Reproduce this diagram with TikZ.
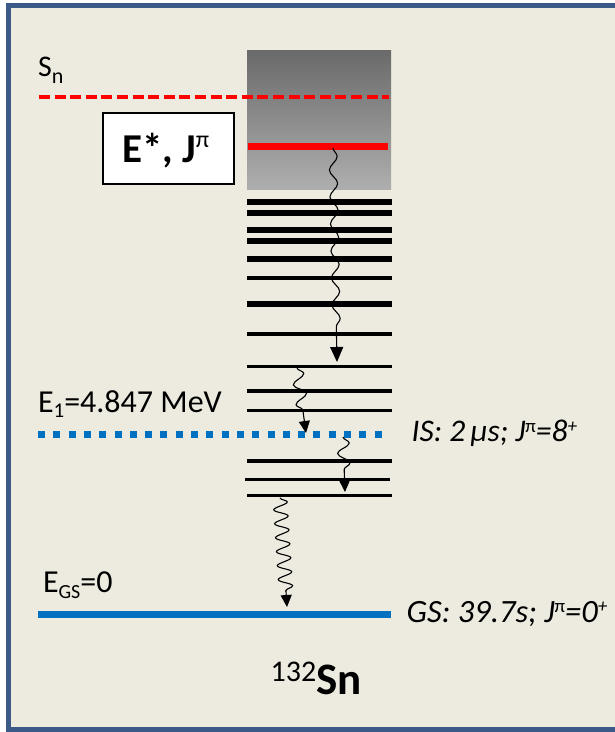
\documentclass[tikz,border=0pt]{standalone}
\usepackage{fontspec}
\setmainfont{Carlito}
\usetikzlibrary{decorations.pathmorphing,arrows.meta}
\definecolor{bgc}{HTML}{EDEBE0}
\definecolor{framec}{HTML}{3C5A87}
\definecolor{lvlblue}{HTML}{0070C0}
\definecolor{gtop}{HTML}{6A6A6A}
\definecolor{gbot}{HTML}{AEAEAE}
\newcommand{\fsz}[1]{\fontsize{#1}{#1}\selectfont}
\newcommand{\upsc}[3]{\raisebox{#1pt}{\fsz{#2}#3}}
\newcommand{\dnsc}[3]{\raisebox{-#1pt}{\fsz{#2}#3}}
\begin{document}
\begin{tikzpicture}[x=1pt,y=-1pt,
  lvl/.style={line width=#1, black},
  lbl/.style={inner sep=0pt, outer sep=0pt, anchor=base west},
  gam/.style={black, line width=1.1pt, decorate},
]
\useasboundingbox (0,0) rectangle (615,732);
\clip (0,0) rectangle (615,732);
\fill[white] (0,0) rectangle (615,732);
\draw[framec, line width=4.5pt, fill=bgc] (8.5,5.5) rectangle (640,729.5);

% grey continuum box
\shade[top color=gtop, bottom color=gbot] (247,50) rectangle (391,189);

% Sn dashed line
\coordinate (sn1) at (39,96.5);
\coordinate (sn2) at (389,96.5);
\draw[red, line width=4pt, dash pattern=on 11pt off 4.6pt] (sn1) -- (sn2);
\node[lbl] (snlab) at (38,76.7) {\fsz{30}S\dnsc{6.6}{22}{n}};

% E*, J^pi box
\node[draw=black, line width=2.5pt, fill=white, minimum width=131pt, minimum height=71pt, inner sep=0pt] (ebox) at (168.3,148.7) {};
\node[lbl] (etext) at (122,162.3) {\fsz{41}\bfseries E*, J\upsc{15}{24}{\mdseries π}};

% red level
\coordinate (r1) at (247.5,146.5);
\coordinate (r2) at (388,146.5);
\draw[red, line width=7pt] (r1) -- (r2);

% black levels
\foreach \yy/\ww in {202/5.5,213/5.5,230/5.5,241/5.5,259/5.5,278.3/3.8,304/5.5,334.3/3.8,366.6/3.5,391/3.5,410.3/3.5,461/3.5,495.7/3.5}{
  \draw[lvl=\ww pt] (247,\yy) -- (392,\yy);
}
\draw[lvl=3.5pt] (245,479.3) -- (389.5,479.3);

% isomer level
\coordinate (is1) at (38,434);
\coordinate (is2) at (382,434);
\draw[lvlblue, line width=7pt, dash pattern=on 7pt off 8.3pt] (is1) -- (is2);
\node[lbl] (e1lab) at (38,412.3) {\fsz{32}E\dnsc{5.5}{21}{1}=4.847 MeV};
\node[lbl] (islab) at (411.7,441.7) {\fsz{31.5}\itshape IS: 2\,μs; J\upsc{9}{19}{\upshape π}=8\upsc{9}{19}{+}};

% ground state
\coordinate (gs1) at (38,614.3);
\coordinate (gs2) at (391,614.3);
\draw[lvlblue, line width=7pt] (gs1) -- (gs2);
\node[lbl] (egslab) at (43,592.3) {\fsz{32}E\dnsc{6}{20}{GS}=0};
\node[lbl] (gslab) at (406.7,622.3) {\fsz{32.5}\itshape GS: 39.7s; J\upsc{10}{19}{\upshape π}=0\upsc{10}{19}{+}};

% nucleus label
\node[lbl] (nuc) at (270.7,694.3) {\upsc{12.6}{30}{132}\fsz{45}\bfseries Sn};

% gamma cascades
\coordinate (g1s) at (333,148);
\coordinate (g1e) at (337,362);
\coordinate (g2s) at (297,368);
\coordinate (g2e) at (306,433);
\coordinate (g3s) at (343,437);
\coordinate (g3e) at (345,492);
\coordinate (g4s) at (280,498);
\coordinate (g4e) at (287,607);
\draw[gam, decoration={snake, segment length=27pt, amplitude=4pt, post length=22pt}, -{Triangle[length=15pt,width=13pt]}] (g1s) -- (g1e);
\draw[gam, decoration={snake, segment length=20pt, amplitude=6pt, post length=14pt}, -{Triangle[length=12pt,width=11pt]}] (g2s) -- (g2e);
\draw[gam, decoration={snake, segment length=20pt, amplitude=6pt, post length=14pt}, -{Triangle[length=12pt,width=11pt]}] (g3s) -- (g3e);
\draw[gam, decoration={snake, segment length=14pt, amplitude=7pt, post length=12pt}, -{Triangle[length=12pt,width=11pt]}] (g4s) -- (g4e);
\end{tikzpicture}
\end{document}
